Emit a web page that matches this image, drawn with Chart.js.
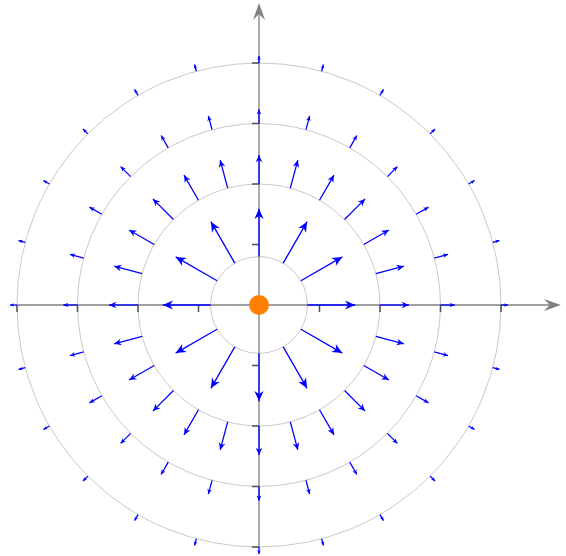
<!DOCTYPE html>
<html>
<head>
<meta charset="utf-8">
<script src="https://cdn.jsdelivr.net/npm/chart.js@4.4.0/dist/chart.umd.min.js"></script>
<style>
  html, body { margin: 0; padding: 0; background: #fff; overflow: hidden; }
  canvas { display: block; }
</style>
</head>
<body>
<canvas id="fieldChart" width="566" height="556"></canvas>
<script>
// rings of the field (axis units) and the arrows sitting on them
const ringRadii = [0.8, 2, 3, 4];
const arrowCounts = [12, 24, 24, 24];
const arrowLengths = [0.79, 0.48, 0.235, 0.115];
const tickValues = [-4, -3, -2, -1, 1, 2, 3, 4];
const xAxisRange = [-4, 4.99];
const yAxisRange = [-4, 4.99];
const chargePos = [{ x: 0, y: 0 }];

// view window: 60.5 px per unit, origin at (259, 305)
const unit = 60.5;
const view = { xMin: -259 / unit, xMax: 307 / unit, yMin: -251 / unit, yMax: 305 / unit };

// one small line dataset per arrow
const arrowSets = [];
ringRadii.forEach((r, i) => {
    const n = arrowCounts[i];
    const len = arrowLengths[i];
    for (let k = 0; k < n; k++) {
        const a = 2 * Math.PI * k / n;
        const c = Math.cos(a), s = Math.sin(a);
        arrowSets.push({
            data: [{ x: r * c, y: r * s }, { x: (r + len) * c, y: (r + len) * s }],
            showLine: true,
            borderColor: '#0000ff',
            borderWidth: 1.3,
            pointRadius: 0,
            clip: false,
            isArrow: true
        });
    }
});

// filled "stealth" head at p1 pointing away from p0
function drawHead(ctx, p0, p1, h, w, notch, color) {
    const ang = Math.atan2(p1.y - p0.y, p1.x - p0.x);
    ctx.save();
    ctx.translate(p1.x, p1.y);
    ctx.rotate(ang);
    ctx.beginPath();
    ctx.moveTo(0, 0);
    ctx.lineTo(-h, -w);
    ctx.lineTo(-h + notch, 0);
    ctx.lineTo(-h, w);
    ctx.closePath();
    ctx.fillStyle = color;
    ctx.fill();
    ctx.restore();
}

const fieldPlugin = {
    id: 'fieldPlugin',
    beforeDatasetsDraw(chart) {
        const ctx = chart.ctx;
        const xs = chart.scales.x, ys = chart.scales.y;
        const x0 = xs.getPixelForValue(0), y0 = ys.getPixelForValue(0);
        ctx.save();
        // rings
        ctx.strokeStyle = '#c8c8c8';
        ctx.lineWidth = 1;
        ringRadii.forEach(r => {
            const rp = xs.getPixelForValue(r) - x0;
            ctx.beginPath();
            ctx.arc(x0, y0, rp, 0, Math.PI * 2);
            ctx.stroke();
        });
        // axes
        const xa = xAxisRange.map(v => xs.getPixelForValue(v));
        const ya = yAxisRange.map(v => ys.getPixelForValue(v));
        ctx.strokeStyle = '#808080';
        ctx.lineWidth = 1.3;
        ctx.beginPath();
        ctx.moveTo(xa[0], y0); ctx.lineTo(xa[1] - 8, y0);
        ctx.moveTo(x0, ya[0]); ctx.lineTo(x0, ya[1] + 8);
        ctx.stroke();
        drawHead(ctx, { x: xa[0], y: y0 }, { x: xa[1], y: y0 }, 17, 6, 6, '#808080');
        drawHead(ctx, { x: x0, y: ya[0] }, { x: x0, y: ya[1] }, 17, 6, 6, '#808080');
        // ticks
        ctx.strokeStyle = '#505050';
        ctx.lineWidth = 1.5;
        ctx.beginPath();
        tickValues.forEach(v => {
            const px = xs.getPixelForValue(v);
            ctx.moveTo(px, y0); ctx.lineTo(px, y0 + 7);
            const py = ys.getPixelForValue(v);
            ctx.moveTo(x0, py); ctx.lineTo(x0 - 7, py);
        });
        ctx.stroke();
        ctx.restore();
    },
    afterDatasetsDraw(chart) {
        const ctx = chart.ctx;
        chart.data.datasets.forEach((ds, i) => {
            if (!ds.isArrow) return;
            const pts = chart.getDatasetMeta(i).data;
            const p0 = pts[0], p1 = pts[1];
            const L = Math.hypot(p1.x - p0.x, p1.y - p0.y);
            const h = 3 + 0.15 * L;
            drawHead(ctx, p0, p1, h, 0.45 * h, 0.3 * h, '#0000ff');
        });
    }
};

new Chart(document.getElementById('fieldChart'), {
    type: 'scatter',
    data: {
        datasets: [{
            data: chargePos,
            pointRadius: 10,
            pointBackgroundColor: '#ff7f00',
            pointBorderWidth: 0,
            clip: false
        }].concat(arrowSets)
    },
    options: {
        responsive: false,
        animation: false,
        events: [],
        layout: { padding: 0, autoPadding: false },
        plugins: { legend: { display: false }, tooltip: { enabled: false } },
        scales: {
            x: { type: 'linear', display: false, min: view.xMin, max: view.xMax },
            y: { type: 'linear', display: false, min: view.yMin, max: view.yMax }
        }
    },
    plugins: [fieldPlugin]
});
</script>
</body>
</html>
